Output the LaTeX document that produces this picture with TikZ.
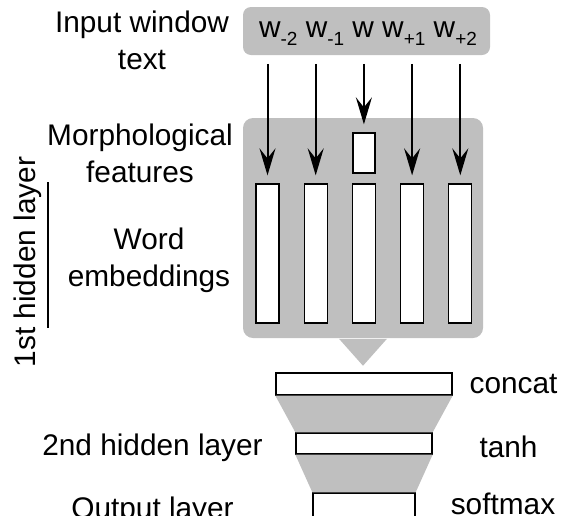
\documentclass[tikz,border=0pt]{standalone}
\usepackage{fontspec}
\setmainfont{Liberation Sans}
\usetikzlibrary{arrows.meta}

\newcommand{\wsub}[1]{w\raisebox{-8pt}{\fontsize{19}{19}\selectfont #1}}

\begin{document}
\begin{tikzpicture}[x=1pt, y=-1pt, line width=1.5pt,
        every node/.style={font=\fontsize{29.8}{37}\selectfont},
        cell/.style={draw, fill=white, inner sep=0pt, line width=1.3pt},
        shade/.style={fill=gray!50, draw=none, inner sep=0pt},
        arr/.style={line width=2pt, -{Stealth[length=27pt, width=16pt, inset=10pt]}, shorten <=8pt, shorten >=8pt}]
        \useasboundingbox (0,0) rectangle (561,515);
        \node[shade, rounded corners=8pt, minimum width=247pt, minimum height=48pt] (inbox) at (366.5,31) {};
        \node[anchor=base, inner sep=0pt] (words) at (368,37) {\wsub{-2} \wsub{-1} w \wsub{+1} \wsub{+2}};
        \node[shade, rounded corners=10pt, minimum width=240pt, minimum height=220pt] (panel) at (363,228) {};
        \fill[gray!50] ([xshift=-24pt]panel.south) -- ++(24,27) -- ++(24,-27) -- cycle;
        \foreach \i/\x in {1/267.5, 2/315.7, 3/363.9, 4/412.1, 5/460.3}
            \node[cell, minimum width=23pt, minimum height=139pt] (e\i) at (\x,253.5) {};
        \node[cell, minimum width=22pt, minimum height=40pt] (m3) at (e3 |- 0,153) {};
        \foreach \i in {1,2,4,5}
            \draw[arr] (inbox.south -| e\i) -- (e\i.north);
        \draw[arr] (inbox.south -| m3) -- (m3.north);
        \node[align=center] (intext) at (142,40) {Input window\\text};
        \node[align=center] (morph) at (140,153) {Morphological\\features};
        \node[align=center] (emb) at (149,260) {Word\\embeddings};
        \node[rotate=90] (hid1) at (28,262) {1st hidden layer};
        \draw[line width=1.3pt] (48,182) -- (48,328);
        \node[cell, minimum width=176pt, minimum height=22pt] (concat) at (364,384) {};
        \node[cell, minimum width=136pt, minimum height=21pt] (tanh) at (364,443.5) {};
        \node[cell, minimum width=102pt, minimum height=24pt] (soft) at (364,505) {};
        \fill[gray!50] (concat.south west) -- (concat.south east) -- (tanh.north east) -- (tanh.north west) -- cycle;
        \fill[gray!50] (tanh.south west) -- (tanh.south east) -- (soft.north east) -- (soft.north west) -- cycle;
        \node[anchor=base] (lconcat) at (513.5,393) {concat};
        \node[anchor=base] (ltanh) at (508.5,457) {tanh};
        \node[anchor=base] (lsoft) at (503,514) {softmax};
        \node[anchor=base] (l2nd) at (152.5,455) {2nd hidden layer};
        \node[anchor=base] (lout) at (152.5,518) {Output layer};
\end{tikzpicture}
\end{document}
